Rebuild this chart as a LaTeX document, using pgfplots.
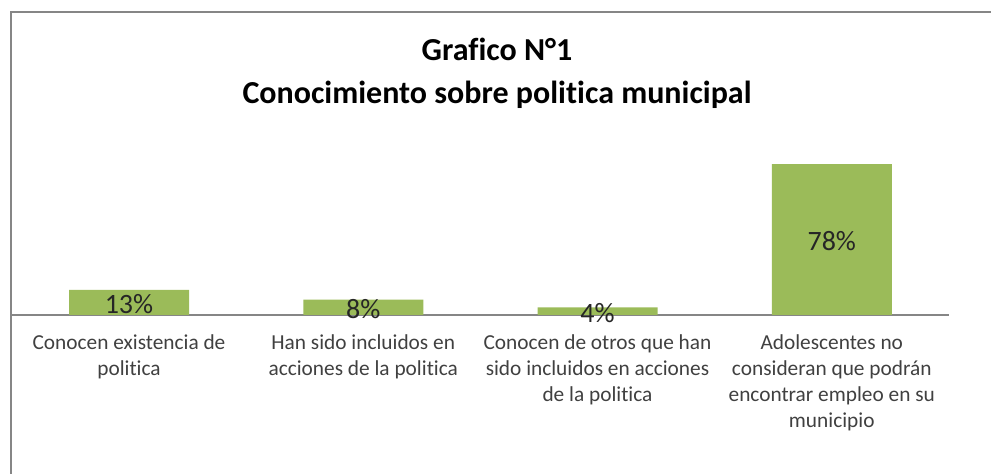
\documentclass[border=0pt]{standalone}
\usepackage{pgfplots}
\pgfplotsset{compat=1.18}
\usepackage{fontspec}
\setmainfont{Carlito}[Ligatures=NoCommon]
\definecolor{barg}{HTML}{9BBB59}
\definecolor{frameg}{HTML}{868686}
\definecolor{txt}{HTML}{404040}
\begin{document}
\begin{tikzpicture}
\useasboundingbox (0,0) rectangle (743.25pt,355.5pt);
\draw[frameg, line width=1.5pt] (8.25pt,0pt) -- (8.25pt,346.5pt) -- (743.25pt,346.5pt);
\node[font=\fontsize{24}{32}\selectfont\bfseries, align=center, text=black] at (372.75pt,300.5pt) {Grafico N°1\\Conocimiento sobre politica municipal};
\begin{axis}[
  at={(96.75pt,119.25pt)}, anchor=origin,
  scale only axis,
  width=702.75pt, height=123.4pt,
  xmin=-0.5, xmax=3.5, ymin=0, ymax=85,
  ybar, bar width=90pt, bar shift=0pt,
  axis x line=bottom, axis y line=none,
  x axis line style={-, frameg, line width=0.8pt},
  xtick={0,1,2,3}, major tick length=0pt,
  xticklabels={{Conocen existencia de\\politica},{Han sido incluidos en\\acciones de la politica},{Conocen de otros que han\\sido incluidos en acciones\\de la politica},{Adolescentes no\\consideran que podrán\\encontrar empleo en su\\municipio}},
  xticklabel style={align=center, text=txt, font=\fontsize{16}{19.5}\selectfont, anchor=north, yshift=-11pt},
  clip=false,
]
\addplot[fill=barg, draw=none] coordinates {(0,13) (1,8) (2,4) (3,78)};
\addplot[draw=none, fill=none, nodes near coords, point meta=explicit symbolic,
  every node near coord/.append style={anchor=center, yshift=-1.5pt, font=\fontsize{21}{25}\selectfont, text=black!85}]
  coordinates {(0,6.5)[13\%] (1,4)[8\%] (2,2)[4\%] (3,39)[78\%]};
\end{axis}
\end{tikzpicture}
\end{document}
